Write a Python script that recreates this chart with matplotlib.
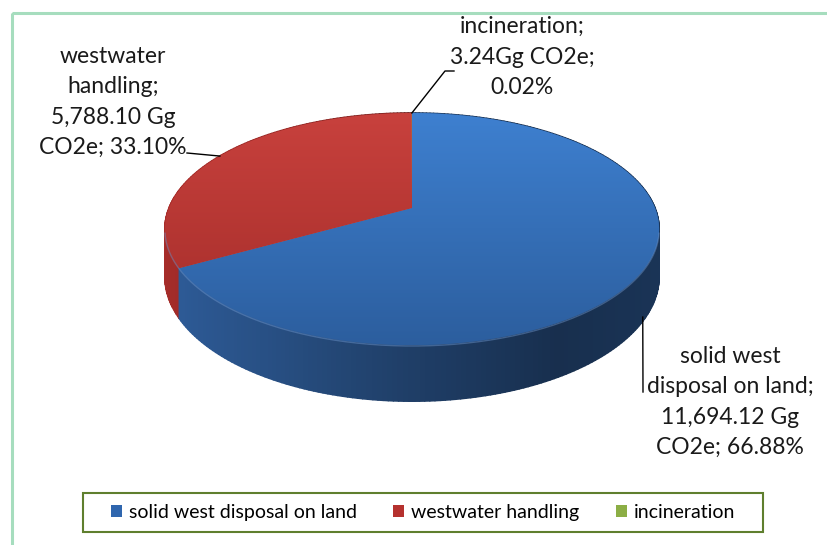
import numpy as np
import matplotlib.pyplot as plt
from matplotlib.patches import Polygon, Rectangle, Patch
from matplotlib.collections import PolyCollection
from matplotlib.colors import to_rgb

# data
categories = ['solid west disposal on land', 'westwater handling', 'incineration']
values = [11694.12, 5788.10, 3.24]
label_fmt = [
    'solid west\ndisposal on land;\n{v:,.2f} Gg\nCO2e; {p:.2f}%',
    'westwater\nhandling;\n{v:,.2f} Gg\nCO2e; {p:.2f}%',
    'incineration;\n{v:,.2f}Gg CO2e;\n{p:.2f}%',
]

# styles
top_colors = [('#3E80D0', '#2C5E9E'), ('#C8413D', '#A32C29'), ('#9BBB59', '#7F9E40')]
wall_colors = ['#2F5E9C', '#A82D2A', '#7F9E40']
legend_colors = ['#2F66AE', '#B5312E', '#8CAE45']
label_pos = [(730, 402), (113, 102), (522, 57)]
leader_end = [(643, 392), (187, 153), (454, 71)]

FONT = 'Lato'
W, H = 828, 545

# pie geometry (pixels), simple perspective tilt
CX, CY = 412, 208
A, B, K, D = 112.2, 243.0, 0.181, 46.0


def project(t):
    c, s = np.cos(t), np.sin(t)
    w = 1 + K * s
    return CX + B * c / w, CY - A * s / w, D / w


fig = plt.figure(figsize=(W / 100, H / 100), dpi=100)
ax = fig.add_axes([0, 0, 1, 1])
ax.set_xlim(0, W)
ax.set_ylim(H, 0)
ax.axis('off')

# outer chart border
ax.add_patch(Rectangle((12, 13), W, H, fill=False, edgecolor='#A6DDBE', lw=2.2))

vals = np.array(values)
frac = vals / vals.sum()
pct = frac * 100
edges = np.deg2rad(90 - 360 * np.concatenate([[0], np.cumsum(frac)]))

# side walls, drawn far to near
quads, cols, depth_key = [], [], []
for i in range(len(vals)):
    t0, t1 = edges[i], edges[i + 1]
    n = max(2, int(abs(np.rad2deg(t1 - t0))))
    ts = np.linspace(t0, t1, n + 1)
    base = np.array(to_rgb(wall_colors[i]))
    for a, b in zip(ts[:-1], ts[1:]):
        xa, ya, da = project(a)
        xb, yb, db = project(b)
        cx = np.cos((a + b) / 2)
        f = np.interp(cx, [-1, -0.5, 0, 0.5, 1], [1.0, 0.85, 0.66, 0.5, 0.56])
        quads.append([(xa, ya), (xb, yb), (xb, yb + db), (xa, ya + da)])
        cols.append(np.clip(base * f, 0, 1))
        depth_key.append(np.sin((a + b) / 2))
order = np.argsort(depth_key)[::-1]
ax.add_collection(PolyCollection([quads[j] for j in order],
                                 facecolors=[cols[j] for j in order],
                                 edgecolors=[cols[j] for j in order], linewidths=1.2))

# top faces with vertical gradient
ytop, ybot = CY - A / (1 + K), CY + A / (1 - K)
grad = np.linspace(0, 1, 200)[:, None] * np.ones((1, 2))
for i in range(len(vals)):
    t0, t1 = edges[i], edges[i + 1]
    n = max(2, int(abs(np.rad2deg(t1 - t0))) * 2)
    ts = np.linspace(t0, t1, n + 1)
    xs, ys, _ = project(ts)
    pts = np.column_stack([np.r_[CX, xs], np.r_[CY, ys]])
    poly = Polygon(pts, closed=True, facecolor=top_colors[i][1], edgecolor='none')
    ax.add_patch(poly)
    c0, c1 = np.array(to_rgb(top_colors[i][0])), np.array(to_rgb(top_colors[i][1]))
    img = c0[None, None, :] * (1 - grad[..., None]) + c1[None, None, :] * grad[..., None]
    im = ax.imshow(img, extent=(CX - B * 1.05, CX + B * 1.05, ybot, ytop),
                   origin='upper', aspect='auto', interpolation='bilinear', zorder=2)
    im.set_clip_path(poly)

# faint rim highlight along the near top edge
tr = np.linspace(np.deg2rad(-168), np.deg2rad(-12), 200)
xr, yr, _ = project(tr)
ax.plot(xr, yr + 1, color='#6F98D0', lw=1, alpha=0.45, zorder=3)
ax.set_xlim(0, W)
ax.set_ylim(H, 0)

# data labels and leader lines
for i in range(len(vals)):
    mid = (edges[i] + edges[i + 1]) / 2
    x, y, d = project(mid)
    if np.sin(mid) < 0:
        y = y + d * 0.92
    ex, ey = leader_end[i]
    if i == 2:
        ax.plot([x, ex - 9, ex], [y, ey, ey], color='black', lw=1, zorder=4)
    else:
        ax.plot([x, ex], [y, ey], color='black', lw=1, zorder=4)
    ax.text(label_pos[i][0], label_pos[i][1], label_fmt[i].format(v=vals[i], p=pct[i]),
            ha='center', va='center', fontsize=16.5, family=FONT, color='#1a1a1a',
            linespacing=1.55, zorder=5)

# legend
handles = [Patch(facecolor=c, edgecolor='none') for c in legend_colors]
ax.legend(handles, categories, loc='center', bbox_to_anchor=(423 / W, 1 - 512.5 / H),
          ncol=3, frameon=False, handlelength=0.55, handleheight=0.6, handletextpad=0.35,
          columnspacing=1.9, prop={'family': FONT, 'size': 14})
ax.add_patch(Rectangle((83, 493), 680, 39, fill=False, edgecolor='#5F7F2E', lw=1.5))

fig.savefig('out.png', dpi=100)
